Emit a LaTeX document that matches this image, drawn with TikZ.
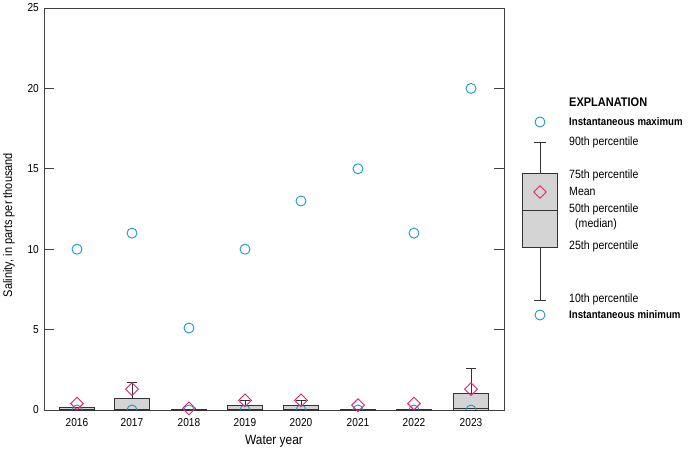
\documentclass[tikz,border=0pt]{standalone}
\usepackage{fontspec}
\usetikzlibrary{shapes.geometric}
\setmainfont{Liberation Sans}[FakeStretch=0.88]
\definecolor{cblue}{HTML}{1A96D4}
\definecolor{cpink}{HTML}{E0226E}
\definecolor{bgray}{HTML}{D4D4D4}
\begin{document}
\begin{tikzpicture}[x=1pt,y=1pt,
  lab/.style={font=\fontsize{11.5}{13}\selectfont,inner sep=0pt},
  leg/.style={font=\fontsize{12}{14}\selectfont,inner sep=0pt,anchor=west},
  circ/.style={draw=cblue,line width=0.9pt,circle,minimum size=10pt,inner sep=0pt},
  dia/.style={draw=cpink,line width=0.9pt,diamond,minimum size=13pt,inner sep=0pt},
  bx/.style={draw=black!80,fill=bgray,line width=0.7pt},
  wh/.style={draw=black!80,line width=0.7pt}]
\useasboundingbox (0,0) rectangle (691,450);
\def\Y#1{40+16.08*#1}
% frame
\draw[line width=0.8pt,black!75] (44,\Y{0}) rectangle (504,\Y{25});
\foreach \v in {0,5,10,15,20,25}{
  \draw[line width=0.8pt,black!75] (44,{\Y{\v}}) -- (54,{\Y{\v}});
  \draw[line width=0.8pt,black!75] (504,{\Y{\v}}) -- (494,{\Y{\v}});
  \node[lab,anchor=east] (yl\v) at (39,{\Y{\v}}) {\v};}
\node[lab,rotate=90,font=\fontsize{12.5}{14}\selectfont] (ylab) at (9,225) {Salinity, in parts per thousand};
\node[lab,font=\fontsize{13.5}{15}\selectfont] (xlab) at (274,9) {Water year};
% data: x, q1, median, q3, whisker top, mean, max
\foreach \x/\yr/\qa/\md/\qc/\wt/\mn/\mx in {
  77/2016/0/0.05/0.15/0.15/0.4/10,
  132/2017/0/0.05/0.74/1.7/1.3/11,
  189/2018/0/0.02/0.06/0.06/0.1/5.1,
  245/2019/0/0.05/0.27/0.6/0.6/10,
  301/2020/0/0.05/0.27/0.6/0.6/13,
  358/2021/0/0.02/0.06/0.06/0.3/15,
  414/2022/0/0.02/0.06/0.06/0.4/11,
  471/2023/0/0.1/1.06/2.6/1.3/20}{
  \draw[wh] (\x,{\Y{\qc}}) -- (\x,{\Y{\wt}}) (\x-5,{\Y{\wt}}) -- (\x+5,{\Y{\wt}});
  \draw[bx] (\x-17.5,{\Y{\qa}}) rectangle (\x+17.5,{\Y{\qc}});
  \draw[wh] (\x-17.5,{\Y{\md}}) -- (\x+17.5,{\Y{\md}});
  \begin{scope}
  \clip (44,\Y{0}) rectangle (504,\Y{25});
  \node[circ] (min\yr) at (\x,{\Y{0}}) {};
  \end{scope}
  \node[dia] (mean\yr) at (\x,{\Y{\mn}}) {};
  \node[circ] (max\yr) at (\x,{\Y{\mx}}) {};
  \node[lab] (xt\yr) at (\x,27) {\yr};
}
% legend
\node[leg,font=\fontsize{12.5}{14}\selectfont\bfseries] (ex) at (569,348) {EXPLANATION};
\node[circ] (lmax) at (540,328) {};
\node[leg,font=\fontsize{11}{13}\selectfont\bfseries] (tmax) at (569,328) {Instantaneous maximum};
\draw[wh] (540,308) -- (540,277) (534,308) -- (546,308) (540,203) -- (540,150) (534,150) -- (546,150);
\draw[bx] (522,203) rectangle (557,277);
\draw[wh] (522,240) -- (557,240);
\node[dia] (lmean) at (540,258) {};
\node[circ] (lmin) at (540,135) {};
\node[leg] (t90) at (569,308) {90th percentile};
\node[leg] (t75) at (569,275) {75th percentile};
\node[leg] (tmn) at (569,259) {Mean};
\node[leg] (t50) at (569,241) {50th percentile};
\node[leg] (tmed) at (575,226) {(median)};
\node[leg] (t25) at (569,204) {25th percentile};
\node[leg] (t10) at (569,151) {10th percentile};
\node[leg,font=\fontsize{11}{13}\selectfont\bfseries] (tmin) at (569,135) {Instantaneous minimum};
\end{tikzpicture}
\end{document}
